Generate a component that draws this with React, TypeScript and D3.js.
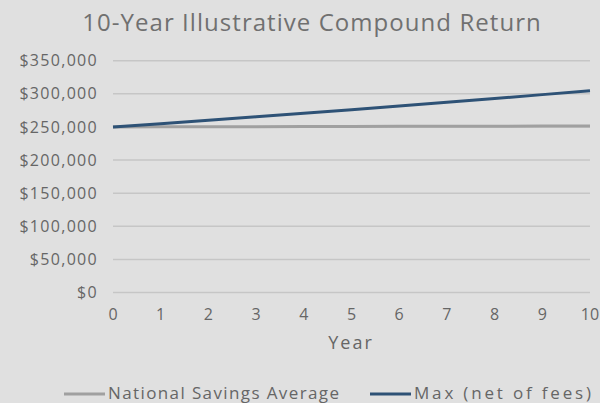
import React, { useRef, useEffect } from "react";
import * as d3 from "d3";

const years = [0, 1, 2, 3, 4, 5, 6, 7, 8, 9, 10];
const nationalAvg = [250000, 250150, 250300, 250450, 250600, 250750, 250900, 251050, 251200, 251350, 251500];
const maxNet = [250000, 255000, 260100, 265300, 270600, 276000, 281500, 287200, 292900, 298800, 304700];
const yTicks = [0, 50000, 100000, 150000, 200000, 250000, 300000, 350000];
const seriesNames = ["National Savings Average", "Max (net of fees)"];
const seriesColors = ["#a0a0a0", "#2e5276"];

const FONT = "'Open Sans', Lato, sans-serif";
const TEXT = "#666666";

const App: React.FC = () => {
  const ref = useRef<SVGSVGElement | null>(null);

  useEffect(() => {
    if (!ref.current) return;
    const svg = d3.select(ref.current);
    svg.selectAll("*").remove();

    const width = 600;
    const height = 403;

    svg.append("rect").attr("width", width).attr("height", height).attr("fill", "#e0e0e0");

    const x = d3.scaleLinear().domain([0, 10]).range([113, 590]);
    const y = d3.scaleLinear().domain([0, 350000]).range([292.6, 60.7]);

    // title
    svg
      .append("text")
      .attr("x", 312)
      .attr("y", 31)
      .attr("text-anchor", "middle")
      .attr("font-family", FONT)
      .attr("font-size", 24)
      .attr("letter-spacing", 1.05)
      .attr("fill", "#707070")
      .text("10-Year Illustrative Compound Return");

    // gridlines
    svg
      .append("g")
      .selectAll("line")
      .data(yTicks)
      .enter()
      .append("line")
      .attr("x1", x(0))
      .attr("x2", x(10))
      .attr("y1", (d) => y(d))
      .attr("y2", (d) => y(d))
      .attr("stroke", "#c6c6c6")
      .attr("stroke-width", 1.5);

    const fmt = d3.format("$,");

    // y labels
    svg
      .append("g")
      .selectAll("text")
      .data(yTicks)
      .enter()
      .append("text")
      .attr("x", 98)
      .attr("y", (d) => y(d))
      .attr("dy", "0.35em")
      .attr("text-anchor", "end")
      .attr("font-family", FONT)
      .attr("font-size", 16)
      .attr("letter-spacing", 1.3)
      .attr("fill", TEXT)
      .text((d) => fmt(d));

    // x labels
    svg
      .append("g")
      .selectAll("text")
      .data(years)
      .enter()
      .append("text")
      .attr("x", (d) => x(d))
      .attr("y", 320)
      .attr("text-anchor", "middle")
      .attr("font-family", FONT)
      .attr("font-size", 16)
      .attr("fill", TEXT)
      .text((d) => String(d));

    svg
      .append("text")
      .attr("x", 351)
      .attr("y", 349)
      .attr("text-anchor", "middle")
      .attr("font-family", FONT)
      .attr("font-size", 18)
      .attr("letter-spacing", 2)
      .attr("fill", TEXT)
      .text("Year");

    const line = d3
      .line<number>()
      .x((_, i) => x(years[i]))
      .y((d) => y(d));

    [nationalAvg, maxNet].forEach((s, i) => {
      svg
        .append("path")
        .datum(s)
        .attr("fill", "none")
        .attr("stroke", seriesColors[i])
        .attr("stroke-width", 3)
        .attr("d", line);
    });

    // legend
    const legendX = [64, 370];
    const legendW = [231, 177];
    seriesNames.forEach((name, i) => {
      const g = svg.append("g").attr("transform", `translate(${legendX[i]},394)`);
      g.append("line")
        .attr("x1", 0)
        .attr("x2", 41)
        .attr("stroke", seriesColors[i])
        .attr("stroke-width", 3);
      g.append("text")
        .attr("x", 44)
        .attr("y", 5)
        .attr("font-family", FONT)
        .attr("font-size", 17)
        .attr("textLength", legendW[i])
        .attr("lengthAdjust", "spacing")
        .attr("fill", TEXT)
        .text(name);
    });
  }, []);

  return (
    <svg
      ref={ref}
      width={600}
      height={403}
      style={{ position: "absolute", left: 0, top: 0, display: "block" }}
    ></svg>
  );
};

export default App;
